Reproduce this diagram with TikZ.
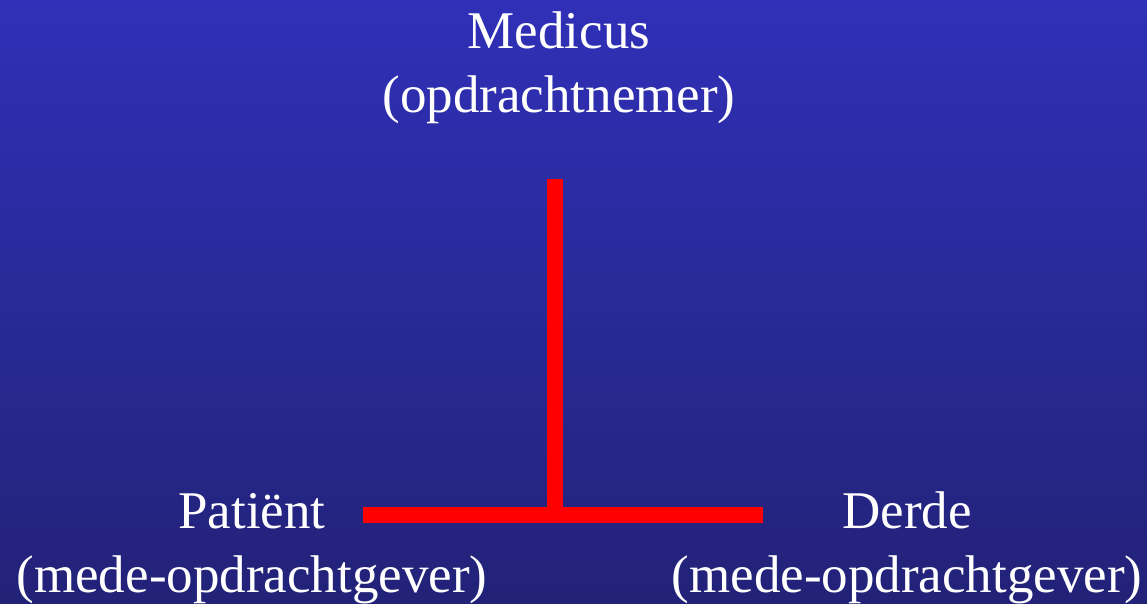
\documentclass[tikz,border=0pt]{standalone}
\usepackage{fontspec}
\setmainfont{Liberation Serif}
\usetikzlibrary{positioning}
\definecolor{bgtop}{HTML}{3030B8}
\definecolor{bgbot}{HTML}{222278}
\definecolor{bar}{HTML}{FF0000}

\begin{document}
\begin{tikzpicture}[
  x=1pt,y=-1pt,
  party/.style={text=white,align=center,inner sep=0pt,anchor=base,
                font=\fontsize{53}{64}\selectfont},
  link/.style={draw=bar,line width=16pt,line cap=butt},
]

% ---------------------------------------------------------------- background
\shade[top color=bgtop,bottom color=bgbot] (0,0) rectangle (1147,603);
\useasboundingbox (0,0) rectangle (1147,603);

% ---------------------------------------------------------------- parties
\node[party] (medicus) at (559,112) {Medicus\\(opdrachtnemer)};
\node[party] (patient) at (252,592) {Patiënt\\(mede-opdrachtgever)};
\node[party] (derde)   at (907,592) {Derde\\(mede-opdrachtgever)};

% ---------------------------------------------------------------- the T
\coordinate (stem) at (555,179);
\coordinate (foot) at (555,515);
\coordinate (lend) at (363,515);
\coordinate (rend) at (763,515);

\draw[link] (stem) -- (foot);
\draw[link] (lend) -- (rend);

\end{tikzpicture}
\end{document}
